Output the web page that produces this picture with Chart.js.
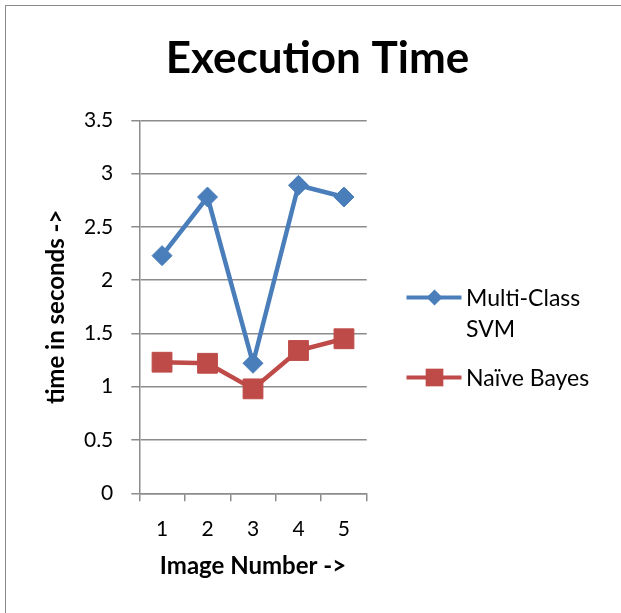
<!DOCTYPE html>
<html>
<head>
<meta charset="utf-8">
<title>Execution Time</title>
<script src="https://cdn.jsdelivr.net/npm/chart.js@4.4.1/dist/chart.umd.min.js"></script>
<style>
    html, body { margin: 0; padding: 0; background: #fff; overflow: hidden; }
    #wrap { position: absolute; left: 0; top: 0; width: 621px; height: 613px; overflow: hidden; }
    #frame { position: absolute; left: 5px; top: 5px; width: 700px; height: 700px; border: 1.5px solid #8a8a8a; }
    #chart { position: absolute; left: 0; top: 0; }
    #legend { position: absolute; left: 405px; top: 282px; font-family: Lato, sans-serif; font-size: 23px; color: #000; }
    .item { display: flex; align-items: flex-start; margin-bottom: 18px; }
    .item canvas { flex: none; }
    .item span { display: block; line-height: 31px; max-width: 140px; margin-left: 3px; }
</style>
</head>
<body>
<div id="wrap">
    <div id="frame"></div>
    <canvas id="chart" width="621" height="613"></canvas>
    <div id="legend"></div>
</div>
<script>
'use strict';

// Data
var imageNumbers = ['1', '2', '3', '4', '5'];
var svmTimes     = [2.23, 2.78, 1.22, 2.89, 2.78];
var bayesTimes   = [1.23, 1.22, 0.98, 1.34, 1.45];
var seriesNames  = ['Multi-Class SVM', 'Naïve Bayes'];
var yMin = 0, yMax = 3.5, yStep = 0.5;

var gridColor = '#8c8c8c';
var fontFamily = 'Lato';

Chart.defaults.font.family = fontFamily;
Chart.defaults.color = '#000';

var datasets = [
    {
        label: seriesNames[0],
        data: svmTimes,
        borderColor: '#4A7EBB',
        backgroundColor: '#4A7EBB',
        borderWidth: 4.5,
        pointStyle: 'rectRot',
        pointRadius: 10,
        pointBorderWidth: 1,
        legendRadius: 8,
        tension: 0
    },
    {
        label: seriesNames[1],
        data: bayesTimes,
        borderColor: '#BE4B48',
        backgroundColor: '#BE4B48',
        borderWidth: 4.5,
        pointStyle: 'rect',
        pointRadius: 14,
        pointBorderWidth: 1,
        legendRadius: 12.5,
        tension: 0
    }
];

var ctx = document.getElementById('chart').getContext('2d');
var chart = new Chart(ctx, {
    type: 'line',
    data: { labels: imageNumbers, datasets: datasets },
    options: {
        responsive: false,
        animation: false,
        devicePixelRatio: 1,
        layout: { padding: { left: 14, top: 0, right: 0, bottom: 0 } },
        plugins: {
            legend: { display: false },
            tooltip: { enabled: false },
            title: {
                display: true,
                text: 'Execution Time',
                color: '#000',
                font: { family: fontFamily, size: 44, weight: 'bold' },
                padding: { top: 32, bottom: 35.5 }
            }
        },
        scales: {
            x: {
                offset: true,
                grid: { offset: true, drawOnChartArea: false, drawTicks: true, tickLength: 8, color: gridColor, lineWidth: 1.5 },
                border: { color: gridColor, width: 1.5 },
                ticks: { font: { size: 21 }, color: '#000', padding: 15, maxRotation: 0 },
                title: {
                    display: true,
                    text: 'Image Number ->',
                    color: '#000',
                    font: { size: 24, weight: 'bold' },
                    padding: { top: 0, bottom: 32.6 }
                },
                afterFit: function (scale) { scale.height = 613 - 493.3; }
            },
            y: {
                min: yMin,
                max: yMax,
                grid: { color: gridColor, lineWidth: 1.5, tickLength: 8 },
                border: { color: gridColor, width: 1.5 },
                ticks: {
                    stepSize: yStep,
                    font: { size: 21 },
                    color: '#000',
                    padding: 18,
                    callback: function (value) { return String(Number(value.toFixed(2))); }
                },
                title: {
                    display: true,
                    text: 'time in seconds ->',
                    color: '#000',
                    font: { size: 24, weight: 'bold' },
                    padding: { top: 27.6, bottom: 0 }
                },
                afterFit: function (scale) { scale.width = 139.3 - 14; }
            },
            // empty axis keeping room for the legend on the right
            yRoom: {
                type: 'linear',
                position: 'right',
                display: true,
                grid: { display: false },
                border: { display: false },
                ticks: { display: false },
                afterFit: function (scale) { scale.width = 621 - 366.7; }
            }
        }
    }
});

/**
 * Build the legend beside the plot from the chart's datasets.
 */
function buildLegend(chart) {
    var box = document.getElementById('legend');
    chart.data.datasets.forEach(function (ds) {
        var row = document.createElement('div');
        row.className = 'item';

        var c = document.createElement('canvas');
        c.width = 58;
        c.height = 31;
        var g = c.getContext('2d');
        g.strokeStyle = ds.borderColor;
        g.lineWidth = 4;
        g.beginPath();
        g.moveTo(1.5, 15.5);
        g.lineTo(56.5, 15.5);
        g.stroke();
        g.fillStyle = ds.backgroundColor;
        g.strokeStyle = ds.borderColor;
        Chart.helpers.drawPoint(g, { pointStyle: ds.pointStyle, radius: ds.legendRadius, rotation: 0, borderWidth: 0 }, 29.5, 15.5);

        var txt = document.createElement('span');
        txt.textContent = ds.label;

        row.appendChild(c);
        row.appendChild(txt);
        box.appendChild(row);
    });
}

buildLegend(chart);
</script>
</body>
</html>
